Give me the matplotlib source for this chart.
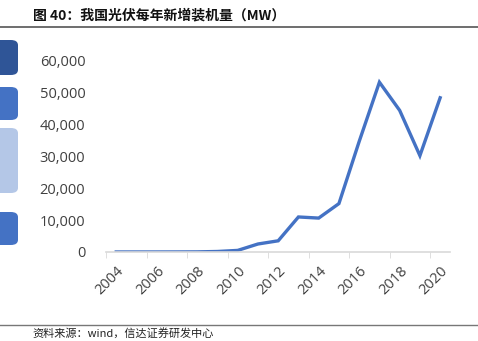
import matplotlib

matplotlib.use("Agg")

import matplotlib.pyplot as plt
from matplotlib.patches import FancyBboxPatch

years = list(range(2004, 2021))
new_capacity_mw = [10, 10, 10, 20, 40, 160, 500, 2500, 3500, 10950, 10600,
                   15130, 34540, 53060, 44260, 30110, 48200]
y_ticks = [0, 10000, 20000, 30000, 40000, 50000, 60000]

title = "图 40：我国光伏每年新增装机量（MW）"
source = "资料来源：wind，信达证券研发中心"

plt.rcParams["font.family"] = ["Open Sans", "Noto Sans CJK SC", "DejaVu Sans"]

fig = plt.figure(figsize=(4.78, 3.41), dpi=100)

# header / footer
fig.text(0.068, 0.955, title, fontsize=10, fontweight="bold",
         family=["Noto Sans CJK SC", "DejaVu Sans"], va="center", color="#111111")
fig.add_artist(plt.Line2D([0, 1], [0.921, 0.921], color="#555555", lw=1.2))
fig.add_artist(plt.Line2D([0, 1], [0.047, 0.047], color="#777777", lw=1.0))
fig.text(0.068, 0.022, source, fontsize=8, style="italic",
         family=["Noto Sans CJK SC", "DejaVu Sans"], va="center", color="#222222")

# cropped side panels on the left edge
boxes = [(40, 75, "#2F5597"), (87, 120, "#4472C4"), (128, 193, "#B4C7E7"), (212, 245, "#4472C4")]
for top, bottom, color in boxes:
    fig.add_artist(FancyBboxPatch(
        (-20 / 478, 1 - bottom / 341), 38 / 478, (bottom - top) / 341,
        boxstyle="round,pad=0,rounding_size=0.015", transform=fig.transFigure,
        facecolor=color, edgecolor="none"))

ax = fig.add_axes([0.222, 0.261, 0.72, 0.563])
x = range(len(years))
ax.plot(x, new_capacity_mw, color="#4472C4", lw=2.4, solid_joinstyle="miter")

ax.set_xlim(-0.5, len(years) - 0.5)
ax.set_ylim(0, 60000)
ax.set_yticks(y_ticks)
ax.set_yticklabels([f"{v:,}" for v in y_ticks], fontsize=10.5, color="#404040")
ax.tick_params(axis="y", length=0, pad=15)

ax.set_xticks(list(x)[::2])
ax.set_xticklabels([str(y) for y in years[::2]], fontsize=10.5, color="#404040",
                   rotation=45, ha="right", rotation_mode="anchor")
ax.set_xticks([i - 0.5 for i in range(0, len(years), 2)], minor=True)
ax.tick_params(axis="x", which="major", length=0, pad=8)
ax.tick_params(axis="x", which="minor", length=4, color="#D9D9D9")

for side in ["top", "right", "left"]:
    ax.spines[side].set_visible(False)
ax.spines["bottom"].set_color("#D9D9D9")
ax.spines["bottom"].set_linewidth(1.2)

fig.savefig("out.png", dpi=100)
